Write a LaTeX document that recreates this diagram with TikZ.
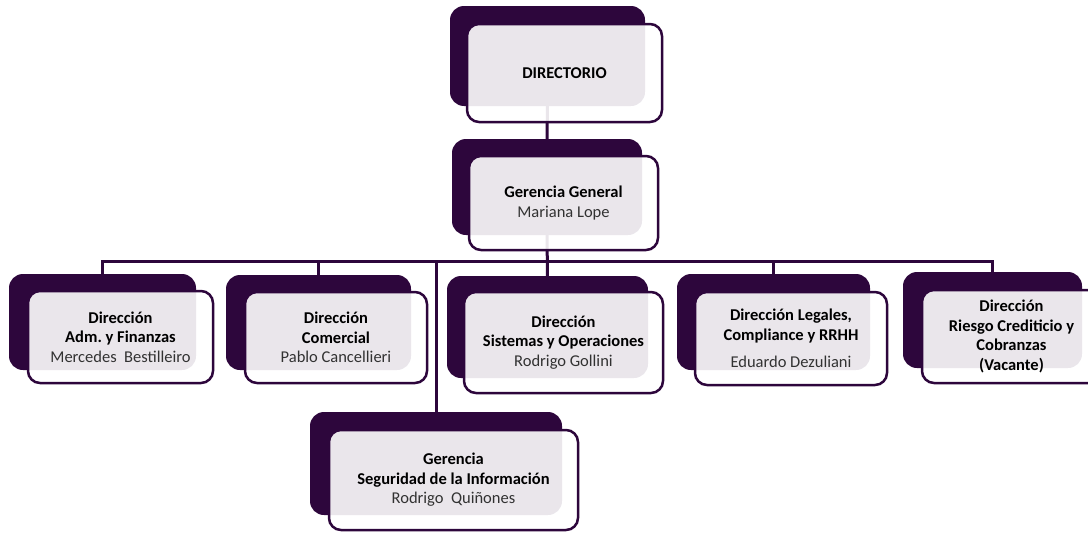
\documentclass[tikz,border=0pt]{standalone}
\usepackage{fontspec}
\setmainfont{Carlito}
\usetikzlibrary{backgrounds}

\definecolor{plum}{RGB}{45,6,60}
\definecolor{namegray}{RGB}{50,50,50}

\tikzset{
    size/.style 2 args={minimum width=#1pt, minimum height=#2pt},
    back/.style={fill=plum, rounded corners=14pt, inner sep=0pt},
    front/.style={draw=plum, line width=2.5pt, fill=white, fill opacity=0.9, text opacity=1,
        rounded corners=12pt, inner sep=0pt, align=center,
        font=\fontsize{16.5}{19.5}\selectfont},
    link/.style={draw=plum, line width=3pt},
}
\newcommand{\who}[1]{{\color{namegray}#1}}
\frenchspacing

\begin{document}
\begin{tikzpicture}[x=1pt, y=-1pt]
    \useasboundingbox (0,0) rectangle (1088,533);

    % top
    \node[back, size={195}{100}] (dir) at (547.5,56) {};
    \node[front, size={195}{98}] (dirf) at ([shift={(17,17)}]dir.center) {\textbf{DIRECTORIO}};

    \node[back, size={190}{96}] (gg) at (547,187) {};
    \node[front, size={189}{94}] (ggf) at ([shift={(16.5,16)}]gg.center)
        {\textbf{Gerencia General}\\ \who{Mariana Lope}};

    % direcciones
    \node[back, size={187}{96}] (adm) at (102.5,322) {};
    \node[front, size={185}{92}] (admf) at ([shift={(18,15)}]adm.center)
        {\textbf{Dirección}\\ \textbf{Adm. y Finanzas}\\ \who{Mercedes\ \ Bestilleiro}};

    \node[back, size={185}{95}] (com) at (318.5,322.5) {};
    \node[front, size={182}{91}] (comf) at ([shift={(17.5,15)}]com.center)
        {\textbf{Dirección}\\ \textbf{Comercial}\\ \who{Pablo Cancellieri}};

    \node[back, size={201}{102}] (sis) at (547.5,327) {};
    \node[front, size={199}{101}] (sisf) at ([shift={(16,15.5)}]sis.center)
        {\textbf{Dirección}\\ \textbf{Sistemas y Operaciones}\\ \who{Rodrigo Gollini}};

    \node[back, size={193}{96}] (leg) at (773.5,322) {};
    \node[front, size={192}{93}] (legf) at ([shift={(17.5,16.5)}]leg.center)
        {\textbf{Dirección Legales,}\\ \textbf{Compliance y RRHH}\\[8pt] \who{Eduardo Dezuliani}};

    \node[back, size={179}{96}] (rie) at (992.5,320) {};
    \node[front, size={179}{93}] (rief) at ([shift={(19,16.5)}]rie.center)
        {\textbf{Dirección}\\ \textbf{Riesgo Crediticio y}\\ \textbf{Cobranzas}\\ \textbf{(Vacante)}};

    % gerencia
    \node[back, size={252}{103}] (seg) at (436,463.5) {};
    \node[front, size={249}{100}] (segf) at ([shift={(17.5,16.5)}]seg.center)
        {\textbf{Gerencia}\\ \textbf{Seguridad de la Información}\\ \who{Rodrigo\ \ Quiñones}};

    \coordinate (bus) at (547,261.5);

    \begin{scope}[on background layer]
        \draw[link] (dir) -- (gg);
        \draw[link] (gg) -- (sis);
        \draw[link] (adm) |- (bus) -| (rie);
        \draw[link] (com) |- (bus);
        \draw[link] (seg) |- (bus);
        \draw[link] (leg) |- (bus);
    \end{scope}
\end{tikzpicture}
\end{document}
